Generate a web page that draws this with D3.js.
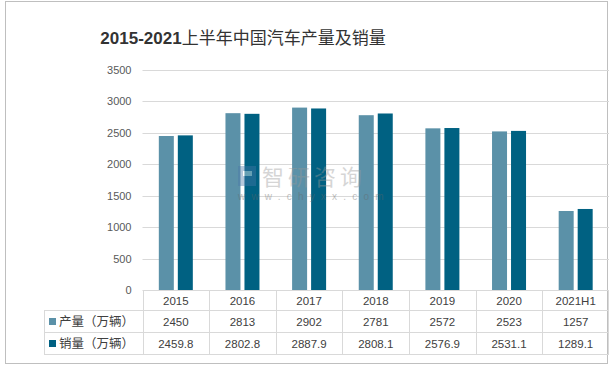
<!DOCTYPE html>
<html><head><meta charset="utf-8">
<script src="https://cdn.jsdelivr.net/npm/d3@7"></script>
<style>body{margin:0;background:#fff}svg{display:block}</style>
</head><body>
<svg id="c" width="614" height="367"></svg>
<script>
const categories = ["2015","2016","2017","2018","2019","2020","2021H1"];
const production = [2450, 2813, 2902, 2781, 2572, 2523, 1257];
const sales = [2459.8, 2802.8, 2887.9, 2808.1, 2576.9, 2531.1, 1289.1];
const productionLabels = ["2450","2813","2902","2781","2572","2523","1257"];
const salesLabels = ["2459.8","2802.8","2887.9","2808.1","2576.9","2531.1","1289.1"];
const seriesNames = ["产量（万辆）","销量（万辆）"];
const yTicks = [0,500,1000,1500,2000,2500,3000,3500];
const colors = ["#5B91A8","#006182"];

const svg = d3.select("#c");
const font = "'Noto Sans CJK SC','Liberation Sans',sans-serif";
const numFont = "'Liberation Sans','DejaVu Sans',sans-serif";
svg.append("rect").attr("x",5.5).attr("y",1.5).attr("width",602).attr("height",362)
  .attr("fill","#fff").attr("stroke","#bfbfbf").attr("stroke-width",1);

const L = 142.5, R = 609, T = 70, B = 290;
const x = d3.scaleBand().domain(categories).range([L,R]);
const y = d3.scaleLinear().domain([0,3500]).range([B,T]);

// title
const title = svg.append("text").attr("x",243).attr("y",44).attr("text-anchor","middle")
  .attr("fill","#333");
title.append("tspan").attr("font-family",numFont).attr("font-weight","bold").attr("font-size",17).text("2015-2021");
title.append("tspan").attr("font-family",font).attr("font-size",17).text("上半年中国汽车产量及销量");

// grid
svg.append("g").selectAll("line").data(yTicks.filter(d=>d>0)).join("line")
  .attr("x1",L).attr("x2",R).attr("y1",d=>Math.round(y(d))+0.5).attr("y2",d=>Math.round(y(d))+0.5)
  .attr("stroke","#d9d9d9");

// y axis
const ya = svg.append("g").attr("transform",`translate(${L},0)`)
  .call(d3.axisLeft(y).tickValues(yTicks).tickFormat(d3.format("d")).tickSize(0).tickPadding(11));
ya.select(".domain").remove();
ya.selectAll("text").attr("font-family",numFont).attr("font-size",11).attr("fill","#595959");

// bars
const bw = 15, gap = 4;
[production, sales].forEach((vals,si)=>{
  svg.append("g").selectAll("rect").data(vals).join("rect")
    .attr("x",(d,i)=>x(categories[i])+x.bandwidth()/2 - (bw+gap/2) + si*(bw+gap))
    .attr("width",bw)
    .attr("y",d=>y(d)).attr("height",d=>B-y(d))
    .attr("fill",colors[si]);
});

// watermark
const wm = svg.append("g").attr("opacity",0.4);
wm.append("rect").attr("x",238).attr("y",166).attr("width",18).attr("height",20).attr("fill","#4a78a8");
wm.append("rect").attr("x",243).attr("y",171).attr("width",9).attr("height",5).attr("fill","#fff");
wm.append("text").attr("x",262).attr("y",185).attr("font-family",font).attr("font-size",22)
  .attr("fill","#999").attr("letter-spacing",4).text("智研咨询");
wm.append("text").attr("x",238).attr("y",200).attr("font-family",numFont).attr("font-size",10)
  .attr("fill","#666").attr("letter-spacing",6.2).text("www.chyxx.com");

// table
const rowY = [290,310.5,332.5,354.5];
const tb = svg.append("g").attr("stroke","#d9d9d9").attr("fill","none");
tb.append("line").attr("x1",L).attr("x2",R).attr("y1",rowY[0]+0.5).attr("y2",rowY[0]+0.5);
[1,2,3].forEach(k=>tb.append("line").attr("x1",44).attr("x2",R).attr("y1",rowY[k]).attr("y2",rowY[k]));
tb.append("line").attr("x1",44.5).attr("x2",44.5).attr("y1",rowY[1]).attr("y2",rowY[3]);
categories.forEach(c=>{
  tb.append("line").attr("x1",Math.round(x(c))+0.5).attr("x2",Math.round(x(c))+0.5).attr("y1",rowY[0]).attr("y2",rowY[3]);
});
tb.append("line").attr("x1",R-0.5).attr("x2",R-0.5).attr("y1",rowY[0]).attr("y2",rowY[3]);

const tx = svg.append("g").attr("font-family",numFont).attr("font-size",11.5).attr("fill","#404040").attr("text-anchor","middle");
tx.selectAll(".h").data(categories).join("text").attr("x",d=>x(d)+x.bandwidth()/2).attr("y",304.5).text(d=>d);
tx.selectAll(".p").data(productionLabels).join("text").attr("x",(d,i)=>x(categories[i])+x.bandwidth()/2).attr("y",326).text(d=>d);
tx.selectAll(".s").data(salesLabels).join("text").attr("x",(d,i)=>x(categories[i])+x.bandwidth()/2).attr("y",348).text(d=>d);

seriesNames.forEach((n,i)=>{
  const cy = (rowY[i+1]+rowY[i+2])/2;
  svg.append("rect").attr("x",49).attr("y",cy-3.5).attr("width",7).attr("height",7).attr("fill",colors[i]);
  svg.append("text").attr("x",59).attr("y",cy+4.5).attr("font-family",font).attr("font-size",12.5)
    .attr("fill","#404040").text(n);
});
</script>
</body></html>
